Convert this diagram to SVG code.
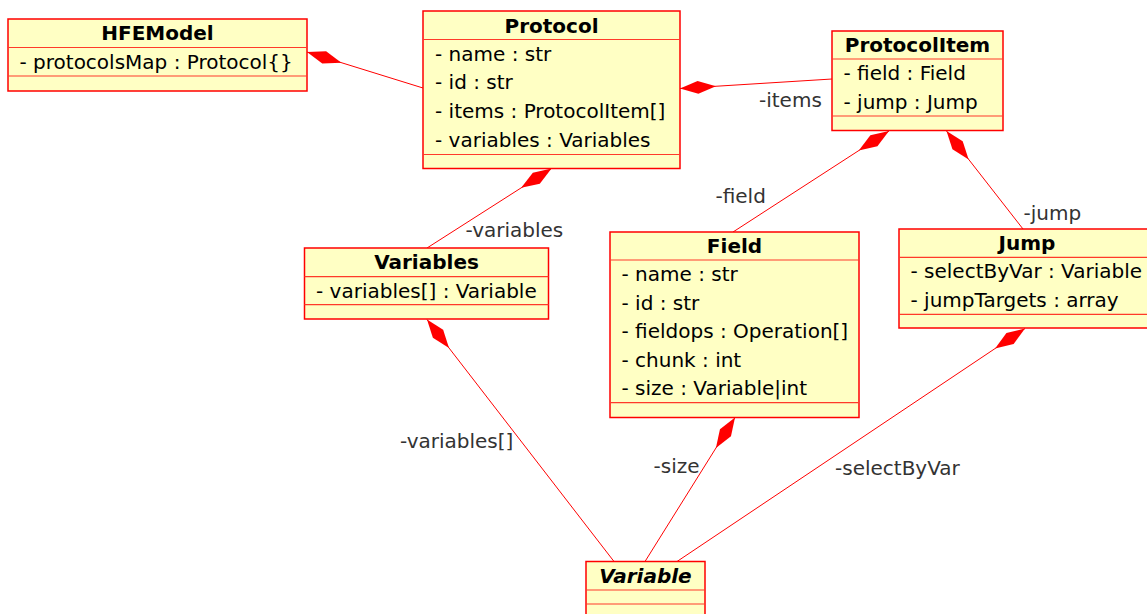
<svg xmlns="http://www.w3.org/2000/svg" width="1147" height="614" viewBox="0 0 1147 614">
<style>
  .box { fill: #FFFFC4; stroke: #FF0000; stroke-width: 1.5; }
  .sep { stroke: #FF3a2a; stroke-width: 1.2; }
  .title { font-family: "DejaVu Sans", sans-serif; font-size: 20px; font-weight: bold; fill: #000; text-anchor: middle; }
  .abs { font-style: italic; }
  .attr { font-family: "DejaVu Sans", sans-serif; font-size: 20px; fill: #000; }
  .lbl { font-family: "DejaVu Sans", sans-serif; font-size: 20px; fill: #333333; }
  .conn { stroke: #FF0000; stroke-width: 1; fill: none; marker-start: url(#diamond); }
</style>
<defs>
  <marker id="diamond" markerUnits="userSpaceOnUse" markerWidth="40" markerHeight="16" refX="0" refY="8" orient="auto" overflow="visible">
    <path d="M0,8 L18,1.5 L36,8 L18,14.5 Z" fill="#FF0000" stroke="none"/>
  </marker>
</defs>

<g id="connectors">
  <line class="conn" x1="307" y1="52" x2="423" y2="88"/>
  <line class="conn" x1="680" y1="88.5" x2="832" y2="79"/>
  <line class="conn" x1="551.5" y1="168.5" x2="427" y2="248"/>
  <line class="conn" x1="889" y1="131" x2="733" y2="232"/>
  <line class="conn" x1="946.5" y1="131" x2="1023" y2="229"/>
  <line class="conn" x1="427" y1="319.5" x2="614" y2="561.5"/>
  <line class="conn" x1="735" y1="417.5" x2="645" y2="561.5"/>
  <line class="conn" x1="1025" y1="328.5" x2="677" y2="561.5"/>
  <text class="lbl" x="759" y="106.5">-items</text>
  <text class="lbl" x="465.5" y="237">-variables</text>
  <text class="lbl" x="715.5" y="203">-field</text>
  <text class="lbl" x="1023.5" y="220">-jump</text>
  <text class="lbl" x="400" y="448">-variables[]</text>
  <text class="lbl" x="653.5" y="473">-size</text>
  <text class="lbl" x="835" y="475">-selectByVar</text>
</g>

<g id="HFEModel">
  <rect class="box" x="8" y="19" width="299" height="72"/>
  <line class="sep" x1="8" y1="47.5" x2="307" y2="47.5"/>
  <line class="sep" x1="8" y1="76" x2="307" y2="76"/>
  <text class="title" x="157.5" y="40">HFEModel</text>
  <text class="attr" x="19.5" y="69">- protocolsMap : Protocol{}</text>
</g>

<g id="Protocol">
  <rect class="box" x="423" y="11" width="257" height="157.5"/>
  <line class="sep" x1="423" y1="39.5" x2="680" y2="39.5"/>
  <line class="sep" x1="423" y1="154.5" x2="680" y2="154.5"/>
  <text class="title" x="551.5" y="33">Protocol</text>
  <text class="attr" x="435" y="60.5">- name : str</text>
  <text class="attr" x="435" y="89.25">- id : str</text>
  <text class="attr" x="435" y="118">- items : ProtocolItem[]</text>
  <text class="attr" x="435" y="146.75">- variables : Variables</text>
</g>

<g id="ProtocolItem">
  <rect class="box" x="832" y="31" width="171" height="99.5"/>
  <line class="sep" x1="832" y1="59" x2="1003" y2="59"/>
  <line class="sep" x1="832" y1="116" x2="1003" y2="116"/>
  <text class="title" x="917.5" y="52">ProtocolItem</text>
  <text class="attr" x="843.5" y="80">- field : Field</text>
  <text class="attr" x="843.5" y="108.5">- jump : Jump</text>
</g>

<g id="Variables">
  <rect class="box" x="304.5" y="248" width="244" height="71"/>
  <line class="sep" x1="304.5" y1="276.7" x2="548.5" y2="276.7"/>
  <line class="sep" x1="304.5" y1="304.7" x2="548.5" y2="304.7"/>
  <text class="title" x="426.5" y="269">Variables</text>
  <text class="attr" x="316" y="297.7">- variables[] : Variable</text>
</g>

<g id="Field">
  <rect class="box" x="610" y="232" width="249" height="185.5"/>
  <line class="sep" x1="610" y1="260" x2="859" y2="260"/>
  <line class="sep" x1="610" y1="402.7" x2="859" y2="402.7"/>
  <text class="title" x="734.5" y="253">Field</text>
  <text class="attr" x="621.5" y="281">- name : str</text>
  <text class="attr" x="621.5" y="309.5">- id : str</text>
  <text class="attr" x="621.5" y="338">- fieldops : Operation[]</text>
  <text class="attr" x="621.5" y="366.6">- chunk : int</text>
  <text class="attr" x="621.5" y="395.2">- size : Variable|int</text>
</g>

<g id="Jump">
  <rect class="box" x="899" y="229" width="256" height="99"/>
  <line class="sep" x1="899" y1="257.3" x2="1155" y2="257.3"/>
  <line class="sep" x1="899" y1="314.3" x2="1155" y2="314.3"/>
  <text class="title" x="1027" y="250">Jump</text>
  <text class="attr" x="910.5" y="278.3">- selectByVar : Variable</text>
  <text class="attr" x="910.5" y="306.8">- jumpTargets : array</text>
</g>

<g id="Variable">
  <rect class="box" x="586" y="561.5" width="119" height="60"/>
  <line class="sep" x1="586" y1="590" x2="705" y2="590"/>
  <line class="sep" x1="586" y1="604" x2="705" y2="604"/>
  <text class="title abs" x="645.5" y="582.5">Variable</text>
</g>
</svg>
